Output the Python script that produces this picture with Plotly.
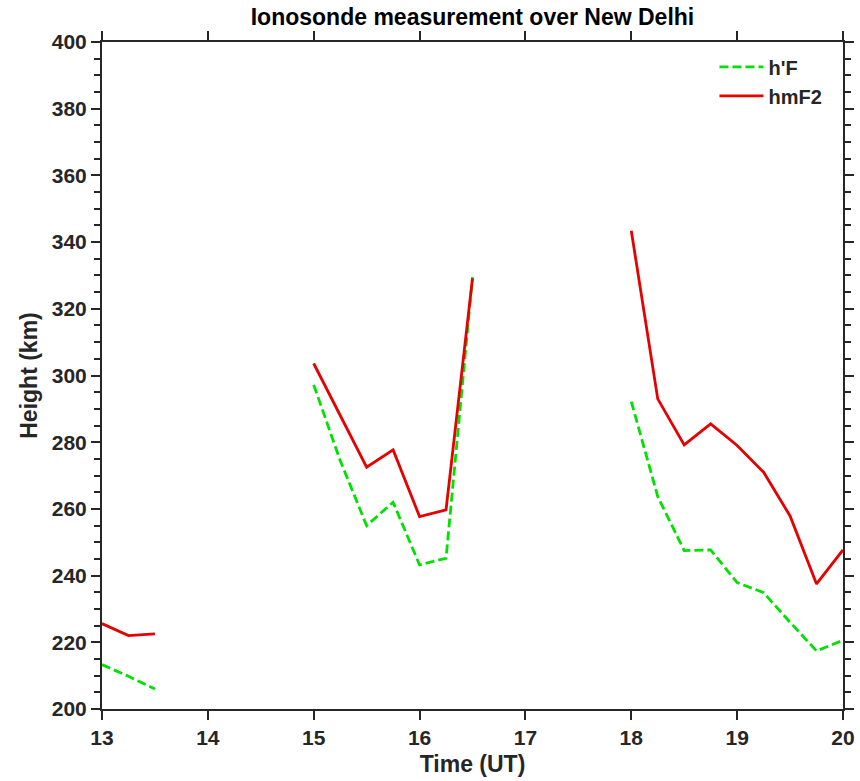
import plotly.graph_objects as go

# Time (UT); None marks gaps in the data
time = [13, 13.25, 13.5, 14, 15, 15.25, 15.5, 15.75, 16, 16.25, 16.5, 17, 18, 18.25, 18.5, 18.75, 19, 19.25, 19.5, 19.75, 20]
h_prime_F = [213.3, 209.8, 206.0, None, 297.2, 274.5, 255.0, 262.0, 243.2, 245.2, 329.5, None,
             292.2, 263.7, 247.5, 247.7, 237.9, 234.9, 226.0, 217.4, 220.6]
hmF2 = [225.6, 222.0, 222.5, None, 303.6, 288.0, 272.5, 277.7, 257.7, 259.7, 329.1, None,
        343.4, 293.0, 279.2, 285.5, 279.0, 271.0, 257.9, 237.5, 247.7]

x_ticks = [13, 14, 15, 16, 17, 18, 19, 20]
y_ticks = [200, 220, 240, 260, 280, 300, 320, 340, 360, 380, 400]

FONT = "Liberation Sans, Arial, sans-serif"
AXC = "#262626"

fig = go.Figure()
fig.add_trace(go.Scatter(x=time, y=h_prime_F, mode="lines", name="h'F",
                         line=dict(color="rgb(0,225,0)", width=2.8, dash="9px,4px"),
                         connectgaps=False))
fig.add_trace(go.Scatter(x=time, y=hmF2, mode="lines", name="hmF2",
                         line=dict(color="rgb(230,0,0)", width=2.8),
                         connectgaps=False))

axis_common = dict(showline=True, linecolor=AXC, linewidth=2, mirror="allticks",
                   ticks="outside", ticklen=9, tickwidth=2, tickcolor=AXC,
                   showgrid=False, zeroline=False, automargin=False,
                   tickfont=dict(family=FONT, size=21, color=AXC, weight="bold"))

fig.update_layout(
    width=860, height=781,
    margin=dict(l=102, r=17, t=42, b=72),
    paper_bgcolor="white", plot_bgcolor="white",
    title=dict(text="Ionosonde measurement over New Delhi", x=0.5, xref="paper",
               y=0.978, yref="container", yanchor="middle",
               font=dict(family=FONT, size=23, color="black", weight="bold")),
    xaxis=dict(range=[13, 20], tickvals=x_ticks, ticktext=[str(v) for v in x_ticks],
               title=dict(text="Time (UT)", standoff=8,
                          font=dict(family=FONT, size=23, color=AXC, weight="bold")),
               **axis_common),
    yaxis=dict(range=[200, 400], tickvals=y_ticks, ticktext=[str(v) for v in y_ticks],
               minor=dict(dtick=5, ticks="outside", ticklen=6, tickwidth=2, tickcolor=AXC),
               title=dict(text="Height (km)", standoff=8,
                          font=dict(family=FONT, size=23, color=AXC, weight="bold")),
               **axis_common),
    legend=dict(x=0.979, y=0.992, xanchor="right", yanchor="top",
                bgcolor="rgba(0,0,0,0)", borderwidth=0, itemwidth=44, tracegroupgap=0,
                font=dict(family=FONT, size=20, color=AXC, weight="bold")),
    showlegend=True,
)

fig.write_html("out.html")
